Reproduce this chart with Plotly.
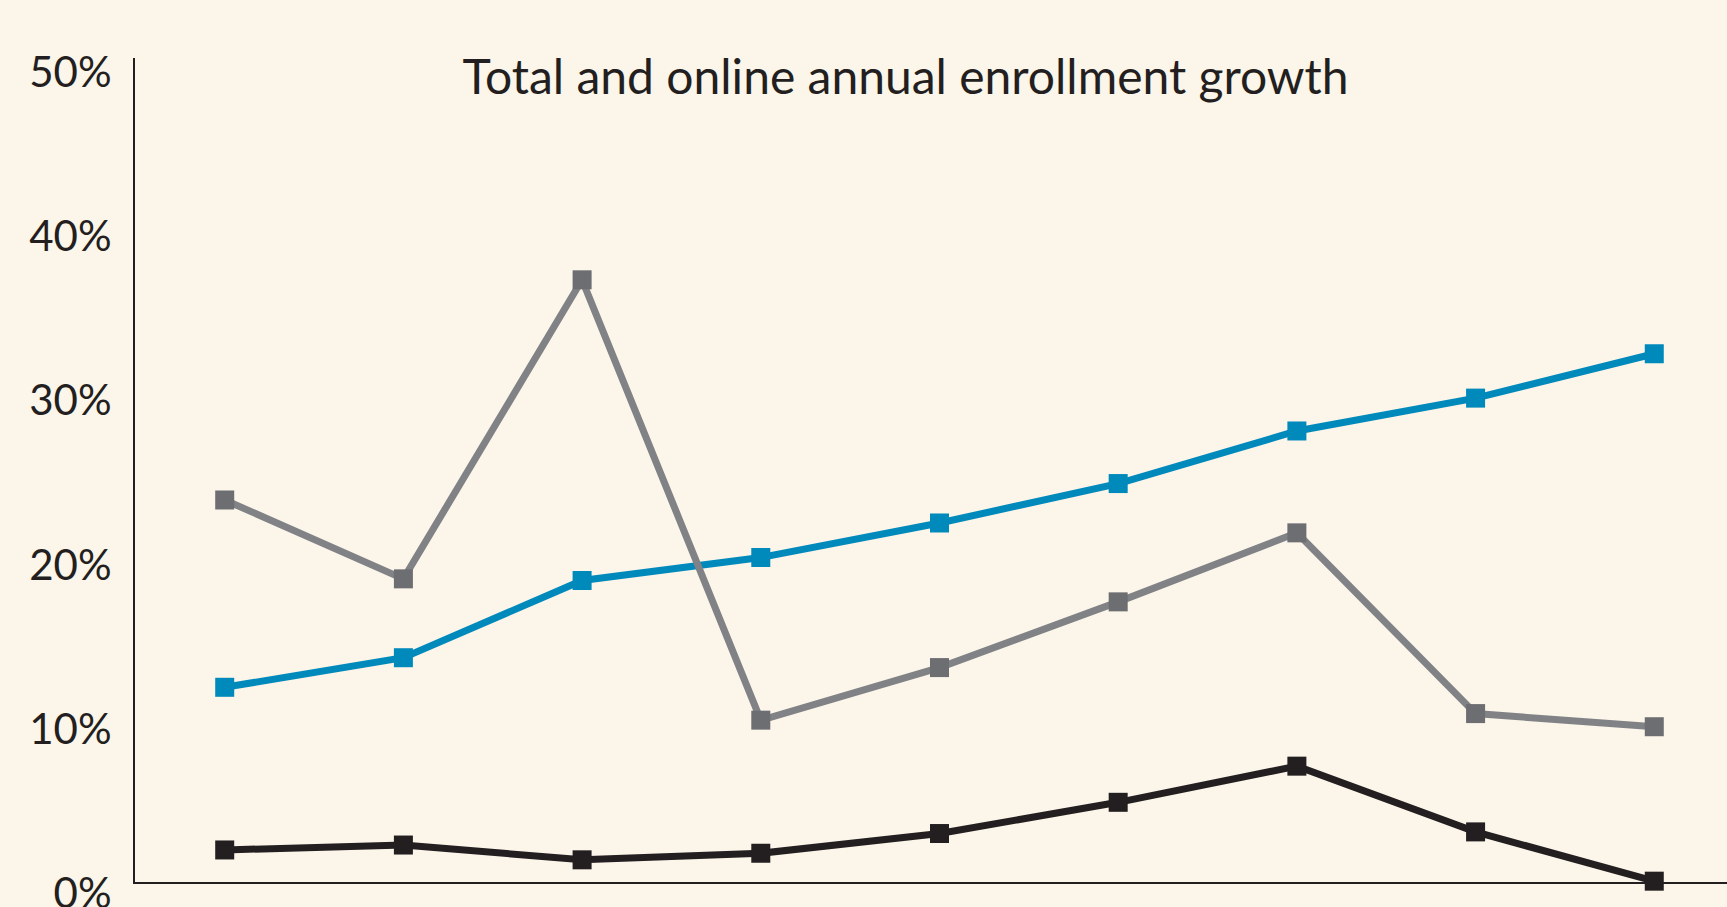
import plotly.graph_objects as go

# Data
years = [2003, 2004, 2005, 2006, 2007, 2008, 2009, 2010, 2011]
online_share = [11.7, 13.5, 18.2, 19.6, 21.7, 24.1, 27.3, 29.3, 32.0]
online_growth = [23.1, 18.3, 36.5, 9.7, 12.9, 16.9, 21.1, 10.1, 9.3]
total_growth = [1.8, 2.1, 1.2, 1.6, 2.8, 4.7, 6.9, 2.9, -0.1]
y_ticks = [0, 10, 20, 30, 40, 50]
y_tick_labels = ["0%", "10%", "20%", "30%", "40%", "50%"]
title_text = "Total and online annual enrollment growth"

BG = "#fbf5ea"
INK = "#231f20"
FONT = "Lato, 'Open Sans', sans-serif"

fig = go.Figure()
fig.add_trace(go.Scatter(
    x=years, y=online_share, mode="lines+markers",
    line=dict(color="#0089bb", width=7),
    marker=dict(symbol="square", size=19, color="#0089bb"),
    name="Online share", hoverinfo="skip", cliponaxis=False))
fig.add_trace(go.Scatter(
    x=years, y=online_growth, mode="lines+markers",
    line=dict(color="#808285", width=7),
    marker=dict(symbol="square", size=19, color="#6d6e71"),
    name="Online growth", hoverinfo="skip", cliponaxis=False))
fig.add_trace(go.Scatter(
    x=years, y=total_growth, mode="lines+markers",
    line=dict(color=INK, width=7),
    marker=dict(symbol="square", size=19, color=INK),
    name="Total growth", hoverinfo="skip", cliponaxis=False))

fig.update_layout(
    width=1727, height=907,
    paper_bgcolor=BG, plot_bgcolor=BG,
    margin=dict(l=135, r=0, t=58, b=25, autoexpand=False),
    showlegend=False,
    font=dict(family=FONT, color=INK),
    title=dict(text=title_text, x=905.5 / 1727, xanchor="center",
               y=1 - 77 / 907, yanchor="middle", yref="container",
               font=dict(family=FONT, size=48, color=INK), automargin=False),
)
fig.update_xaxes(
    range=[2003 - 0.502, 2003 + 8.407], automargin=False,
    showgrid=False, zeroline=False, showticklabels=False, ticks="",
    showline=True, linecolor=INK, linewidth=2,
)
fig.update_yaxes(
    range=[-0.15, 50.0], automargin=False,
    tickmode="array", tickvals=y_ticks, ticktext=y_tick_labels,
    showgrid=False, zeroline=False, ticks="",
    showline=True, linecolor=INK, linewidth=2,
    tickfont=dict(family=FONT, size=42, color=INK),
    ticklabelstandoff=13, ticklabelshift=14, ticklabeloverflow="allow",
)

fig.write_html(
    "out.html",
    config={"displayModeBar": False},
    post_script="document.body.style.margin='0';document.body.style.padding='0';",
)
